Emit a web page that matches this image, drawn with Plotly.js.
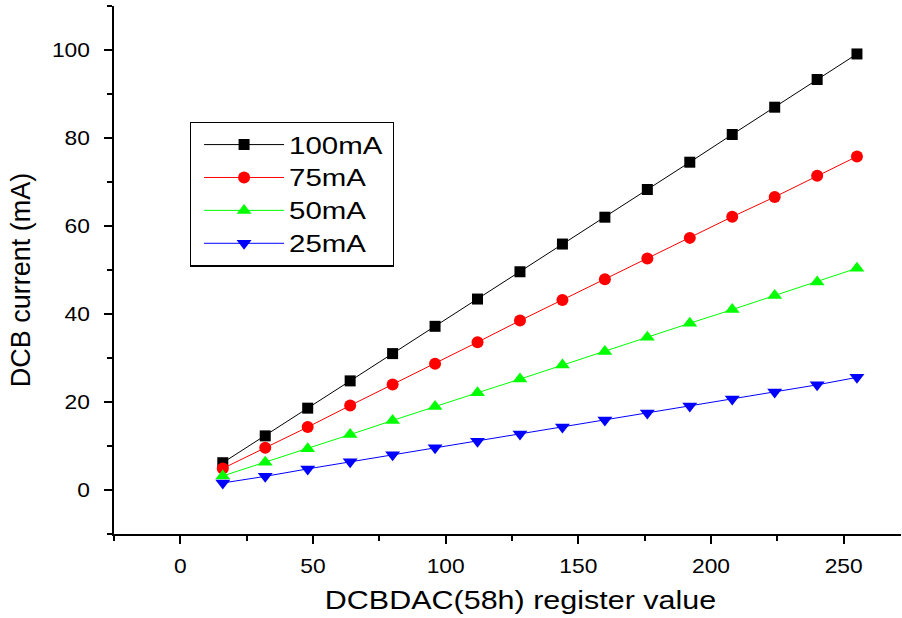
<!DOCTYPE html>
<html>
<head>
<meta charset="utf-8">
<script src="https://cdn.plot.ly/plotly-3.0.1.min.js"></script>
<style>
  html, body { margin: 0; padding: 0; background: #fff; }
  #chart { width: 902px; height: 618px; }
</style>
</head>
<body>
<div id="chart"></div>
<script>
// DAC register settings
const registerValues = [16, 32, 48, 64, 80, 96, 112, 128, 144, 160, 176, 192, 208, 224, 240, 255];

// Measured DCB current (mA) per full-scale setting
const current100mA = [6.2, 12.3, 18.6, 24.8, 31.0, 37.2, 43.4, 49.6, 55.9, 62.0, 68.3, 74.5, 80.8, 87.0, 93.3, 99.1];
const current75mA  = [4.9, 9.6, 14.3, 19.2, 24.0, 28.7, 33.6, 38.5, 43.2, 47.9, 52.6, 57.3, 62.1, 66.6, 71.4, 75.8];
const current50mA  = [3.2, 6.3, 9.4, 12.6, 15.8, 19.0, 22.1, 25.2, 28.4, 31.5, 34.7, 37.9, 41.0, 44.2, 47.3, 50.4];
const current25mA  = [1.6, 3.1, 4.8, 6.4, 8.0, 9.6, 11.1, 12.7, 14.3, 15.9, 17.5, 19.1, 20.7, 22.3, 23.9, 25.6];

const seriesNames = ['100mA', '75mA', '50mA', '25mA'];

// Axis tick values
const xMajorTicks = [0, 50, 100, 150, 200, 250];
const xMinorTicks = [-25, 25, 75, 125, 175, 225];
const yMajorTicks = [0, 20, 40, 60, 80, 100];
const yMinorTicks = [-10, 10, 30, 50, 70, 90, 110];

const FONT = 'Arial, "Liberation Sans", sans-serif';

function series(name, y, color, symbol, size) {
  return {
    x: registerValues, y: y, name: name,
    type: 'scatter', mode: 'lines+markers',
    line: { color: color, width: 1 },
    marker: { color: color, symbol: symbol, size: size, line: { width: 0 } }
  };
}

const data = [
  series(seriesNames[0], current100mA, '#000000', 'square', 11),
  series(seriesNames[1], current75mA, '#ff0000', 'circle', 12),
  series(seriesNames[2], current50mA, '#00ff00', 'triangle-up', 13),
  series(seriesNames[3], current25mA, '#0000ff', 'triangle-down', 13)
];

const layout = {
  width: 902, height: 618,
  margin: { l: 114, r: 1, t: 6, b: 84 },
  paper_bgcolor: '#fff', plot_bgcolor: '#fff',
  font: { family: FONT, color: '#000', size: 20 },
  showlegend: true,
  legend: {
    x: 0.1062, y: 0.781, xanchor: 'left', yanchor: 'top',
    bordercolor: '#000', borderwidth: 1.5, bgcolor: '#fff',
    font: { family: FONT, size: 23, color: '#000' },
    itemwidth: 80, tracegroupgap: 0
  },
  xaxis: {
    range: [-25, 271.6],
    tickvals: xMajorTicks,
    ticks: 'outside', ticklen: 8, tickwidth: 2, tickcolor: '#000',
    minor: { tickvals: xMinorTicks, ticks: 'outside', ticklen: 5, tickwidth: 2, tickcolor: '#000' },
    showline: true, linecolor: '#000', linewidth: 2,
    showgrid: false, zeroline: false,
    ticklabelstandoff: 5,
    tickfont: { family: FONT, size: 20 },
    title: { text: 'DCBDAC(58h) register value', font: { family: FONT, size: 25 }, standoff: 16 }
  },
  yaxis: {
    range: [-10, 110],
    tickvals: yMajorTicks,
    ticks: 'outside', ticklen: 8, tickwidth: 2, tickcolor: '#000',
    minor: { tickvals: yMinorTicks, ticks: 'outside', ticklen: 5, tickwidth: 2, tickcolor: '#000' },
    showline: true, linecolor: '#000', linewidth: 2,
    showgrid: false, zeroline: false,
    ticklabelstandoff: 10,
    tickfont: { family: FONT, size: 20 },
    title: { text: 'DCB current (mA)', font: { family: FONT, size: 27 }, standoff: 18 }
  }
};

// Widen text horizontally about its anchor point, optionally nudging it.
function widenText(root, selector, sx, dx, dy) {
  root.querySelectorAll(selector).forEach(function (t) {
    const x = parseFloat(t.getAttribute('x')) || 0;
    const y = parseFloat(t.getAttribute('y')) || 0;
    const prev = t.getAttribute('transform') || '';
    t.setAttribute('transform',
      'translate(' + (dx || 0) + ',' + (dy || 0) + ') ' + prev +
      ' translate(' + x + ',' + y + ') scale(' + sx + ',1) translate(' + (-x) + ',' + (-y) + ')');
  });
}

const gd = document.getElementById('chart');
Plotly.newPlot(gd, data, layout, { displayModeBar: false, staticPlot: true }).then(function () {
  widenText(gd, '.xtick text', 1.14, 0, 0);
  widenText(gd, '.ytick text', 1.14, 0, 0);
  widenText(gd, '.g-xtitle text', 1.22, 13, 0);
  widenText(gd, '.g-ytitle text', 1.0, 0, 10);
  widenText(gd, '.legend .legendtext', 1.28, 0, 0);

  // Legend frame: widen to fit the widened labels
  const bg = gd.querySelector('.legend rect.bg');
  if (bg) {
    const bx = parseFloat(bg.getAttribute('x')) || 0;
    bg.setAttribute('x', bx - 8);
    bg.setAttribute('width', 203);
  }
  gd.querySelectorAll('clipPath').forEach(function (cp) {
    if (cp.id && cp.id.indexOf('legend') !== -1) {
      cp.querySelectorAll('rect').forEach(function (r) {
        r.setAttribute('x', -20);
        r.setAttribute('width', 400);
      });
    }
  });
});
</script>
</body>
</html>
